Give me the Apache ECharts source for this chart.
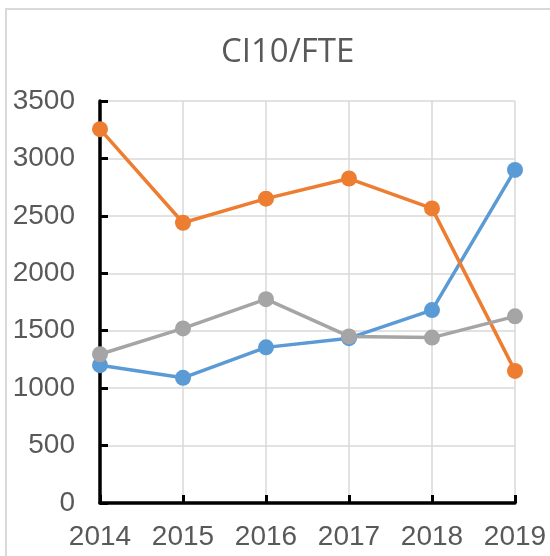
<!DOCTYPE html>
<html>
<head>
<meta charset="utf-8">
<script src="https://cdn.jsdelivr.net/npm/echarts@6/dist/echarts.min.js"></script>
<style>
  html, body { margin: 0; padding: 0; background: #fff; }
  #frame { position: absolute; left: 5px; top: 8px; width: 560px; height: 560px;
           border-left: 2px solid #d9d9d9; border-top: 2px solid #d9d9d9; }
  #chart { position: absolute; left: 0; top: 0; width: 550px; height: 556px; }
</style>
</head>
<body>
<div id="frame"></div>
<div id="chart"></div>
<script>
// years on the x axis
var years = ['2014', '2015', '2016', '2017', '2018', '2019'];
// three series
var blueVals = [1200, 1090, 1355, 1435, 1680, 2900];
var orangeVals = [3255, 2440, 2650, 2825, 2565, 1150];
var grayVals = [1295, 1520, 1775, 1450, 1440, 1625];

var chart = echarts.init(document.getElementById('chart'));

function mkSeries(name, data, color) {
  return {
    name: name, type: 'line', data: data,
    symbol: 'circle', symbolSize: 16,
    lineStyle: { color: color, width: 3.5 },
    itemStyle: { color: color },
    animation: false
  };
}

chart.setOption({
  title: {
    text: 'CI10/FTE', left: 216, top: 31,
    textStyle: { fontFamily: 'Open Sans', fontWeight: 'normal', fontSize: 33, color: '#595959' }
  },
  grid: { left: 100, right: 35, top: 101, bottom: 53 },
  xAxis: {
    type: 'category', data: years, boundaryGap: false,
    axisLine: { lineStyle: { color: '#000', width: 3.5 } },
    axisTick: { inside: true, length: 8, lineStyle: { color: '#000', width: 3 } },
    axisLabel: { color: '#595959', fontSize: 28, fontFamily: 'Liberation Sans', margin: 20 },
    splitLine: { show: true, lineStyle: { color: '#d9d9d9', width: 1.5 } }
  },
  yAxis: {
    type: 'value', min: 0, max: 3500, interval: 500,
    axisLine: { show: true, lineStyle: { color: '#000', width: 3.5 } },
    axisTick: { show: true, inside: true, length: 8, lineStyle: { color: '#000', width: 3 } },
    axisLabel: { color: '#595959', fontSize: 28, fontFamily: 'Liberation Sans', margin: 25,
                 formatter: function (v) { return String(v); } },
    splitLine: { lineStyle: { color: '#d9d9d9', width: 1.5 } }
  },
  series: [
    mkSeries('A', blueVals, '#5b9bd5'),
    mkSeries('B', orangeVals, '#ed7d31'),
    mkSeries('C', grayVals, '#a5a5a5')
  ]
});
</script>
</body>
</html>
